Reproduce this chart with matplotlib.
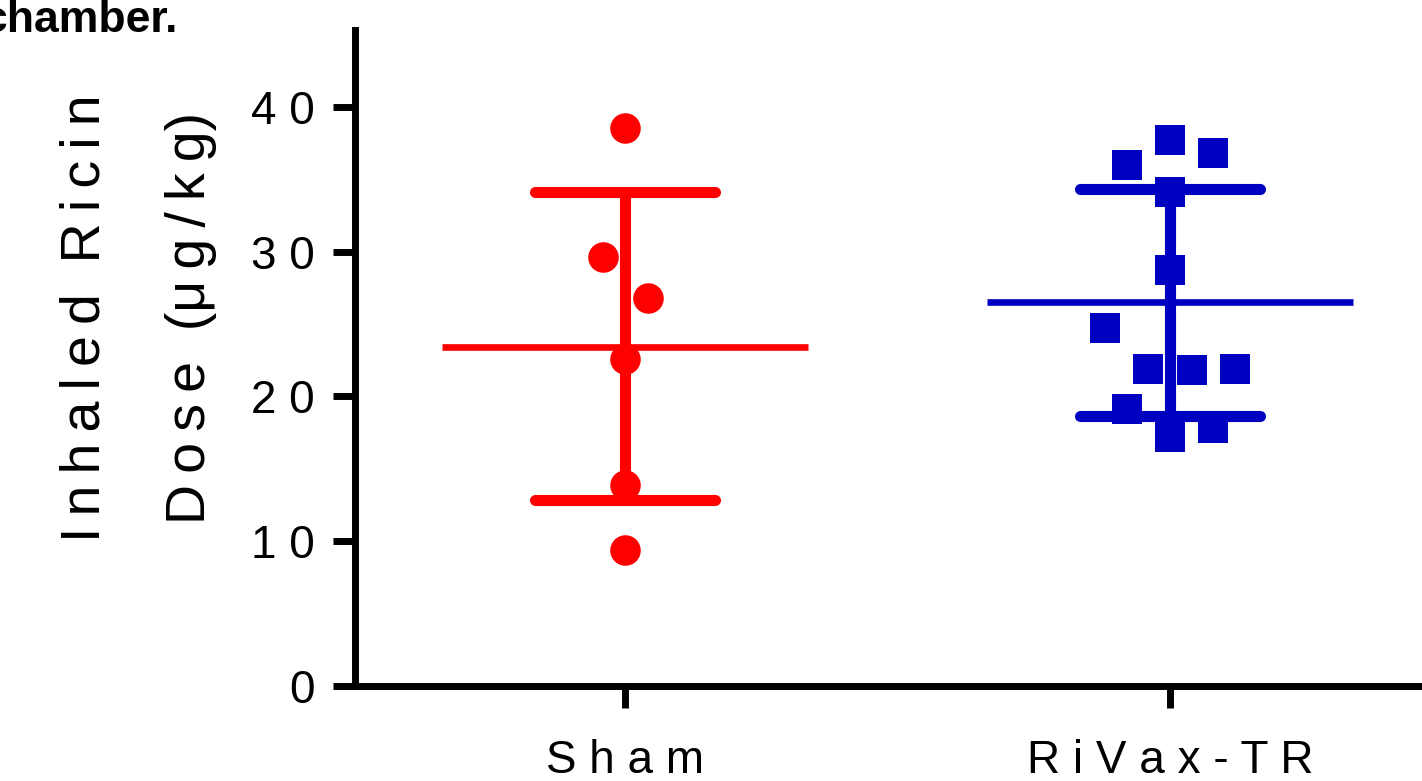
import numpy as np
import matplotlib.pyplot as plt

plt.rcParams['font.family'] = ['Liberation Sans', 'DejaVu Sans']

# data
groups = ['Sham', 'RiVax-TR']
sham_vals = [38.5, 29.6, 26.8, 22.6, 13.9, 9.4]
sham_jit = [0.0, -0.04, 0.042, 0.0, 0.0, 0.0]
rivax_vals = [36.0, 37.7, 36.8, 34.1, 28.7, 24.7, 21.9, 21.8, 21.9, 19.1, 17.2, 17.8]
rivax_jit = [-0.079, 0.0, 0.079, 0.0, 0.0, -0.12, -0.04, 0.04, 0.119, -0.079, 0.0, 0.079]
means = [23.4, 26.5]
sd_low = [12.85, 18.65]
sd_high = [34.1, 34.3]
colors = ['#ff0000', '#0000c0']

fig = plt.figure(figsize=(14.22, 7.81), dpi=100)
ax = fig.add_axes([0.2497, 0.1216, 0.7503, 0.84])

# points
ax.plot(np.array(sham_jit) + 0, sham_vals, 'o', color=colors[0], ms=22, mew=0, zorder=3)
ax.plot(np.array(rivax_jit) + 1, rivax_vals, 's', color=colors[1], ms=22, mew=0, zorder=3)

# mean and SD
for i in range(2):
    ax.plot([i - 0.335, i + 0.335], [means[i], means[i]], color=colors[i], lw=4.8, solid_capstyle='butt', zorder=2)
    ax.plot([i, i], [sd_low[i], sd_high[i]], color=colors[i], lw=8, solid_capstyle='butt', zorder=2)
    for y in (sd_low[i], sd_high[i]):
        ax.plot([i - 0.165, i + 0.165], [y, y], color=colors[i], lw=8, solid_capstyle='round', zorder=2)

ax.set_xlim(-0.495, 1.462)
ax.set_ylim(0, 45.3)
ax.set_yticks([0, 10, 20, 30, 40])
ax.set_yticklabels(['0', '1 0', '2 0', '3 0', '4 0'])
ax.set_xticks([0, 1])
ax.set_xticklabels(['S h a m', 'R i V a x - T R'])
ax.tick_params(axis='both', width=5, length=16, labelsize=33, pad=13)
ax.tick_params(axis='x', pad=22)
for s in ['top', 'right']:
    ax.spines[s].set_visible(False)
for s in ['left', 'bottom']:
    ax.spines[s].set_linewidth(5)

ts = '\u2009'
line1 = ts.join('Inhaled') + '  ' + ts.join('Ricin')
line2 = ts.join('Dose') + '  (' + ts.join('μg/kg') + ')'
fig.text(100 / 1422, 1 - 318 / 781, line1, rotation=90, rotation_mode='anchor',
         ha='center', va='baseline', fontsize=40)
fig.text(205 / 1422, 1 - 318 / 781, line2, rotation=90, rotation_mode='anchor',
         ha='center', va='baseline', fontsize=40)
fig.text(178 / 1422, 1 - 32 / 781, 'chamber.', ha='right', va='baseline',
         fontsize=32, fontweight='bold')

fig.savefig('out.png', dpi=100)
